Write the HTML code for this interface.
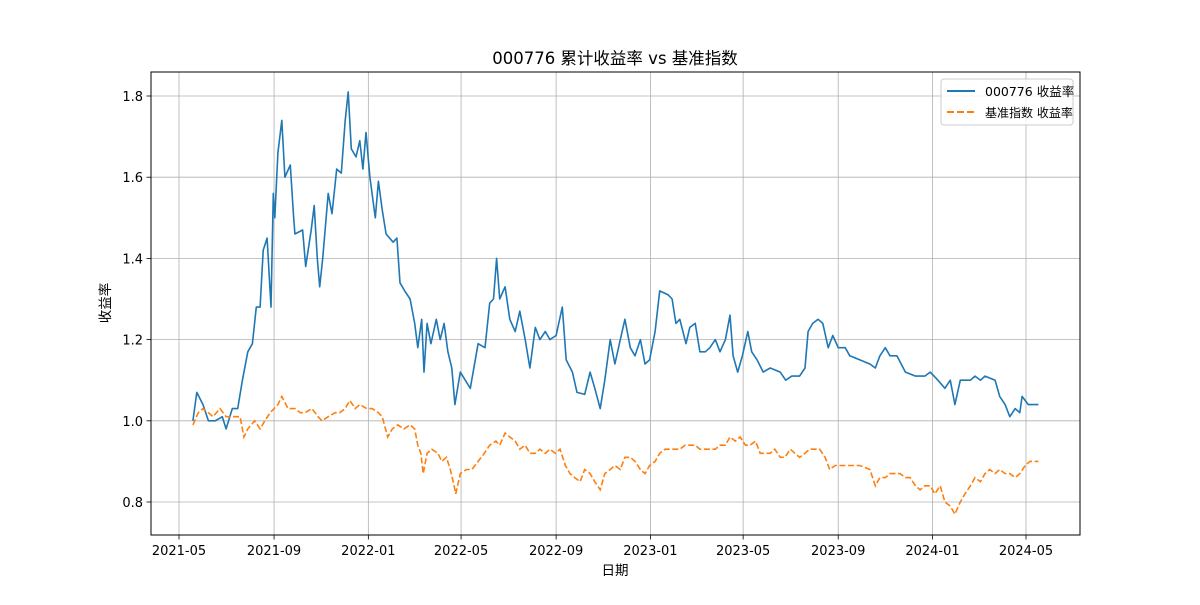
<!DOCTYPE html>
<html><head><meta charset="utf-8"><style>
body{margin:0;background:#fff;}
svg text{font-family:"DejaVu Sans","Liberation Sans","Noto Sans CJK SC",sans-serif;fill:#000;}
</style></head><body>
<svg id="chart" width="1200" height="600" xmlns="http://www.w3.org/2000/svg">
<rect width="1200" height="600" fill="#fff"/>
<g id="grid"></g>
<g id="series"></g>
<rect x="151" y="72" width="929" height="463" fill="none" stroke="#000" stroke-width="1"/>
<g id="ticks"></g>
<text x="615" y="64" text-anchor="middle" font-size="16.5">000776 累计收益率 vs 基准指数</text>
<text x="615" y="575" text-anchor="middle" font-size="13.5">日期</text>
<text transform="translate(110,303) rotate(-90)" text-anchor="middle" font-size="13.5">收益率</text>
<g>
<rect x="941" y="79" width="132" height="46" rx="3" fill="#fff" fill-opacity="0.8" stroke="#ccc"/>
<line x1="947" y1="91" x2="975" y2="91" stroke="#1f77b4" stroke-width="2"/>
<text x="985" y="96" font-size="12.5">000776 收益率</text>
<line x1="947" y1="112" x2="975" y2="112" stroke="#ff7f0e" stroke-width="2" stroke-dasharray="7,3"/>
<text x="985" y="117" font-size="12">基准指数 收益率</text>
</g>
</svg>
<script>
const stockDays=[18,23,31,38,47,56,61,69,76,82,89,95,100,105,109,114,119,122,124,128,133,137,144,148,150,160,164,171,175,179,182,186,193,198,204,210,215,219,223,229,234,238,242,247,254,258,263,268,277,282,286,292,299,305,309,314,317,321,326,333,338,343,348,353,357,364,377,387,396,402,407,411,415,422,428,435,441,448,454,461,467,474,480,488,496,501,509,515,525,532,538,545,551,558,564,571,577,584,590,597,603,609,616,622,633,638,643,648,656,661,668,674,681,687,694,700,707,713,717,723,729,736,741,748,756,765,778,785,793,803,810,814,820,827,833,840,846,853,862,868,881,894,901,907,914,920,929,940,953,965,972,982,991,998,1004,1011,1024,1030,1037,1043,1056,1062,1069,1075,1082,1088,1091,1099,1105,1112];
const stockValues=[1.00,1.07,1.04,1.00,1.00,1.01,0.98,1.03,1.03,1.10,1.17,1.19,1.28,1.28,1.42,1.45,1.28,1.56,1.50,1.66,1.74,1.60,1.63,1.51,1.46,1.47,1.38,1.47,1.53,1.40,1.33,1.40,1.56,1.51,1.62,1.61,1.74,1.81,1.67,1.65,1.69,1.62,1.71,1.60,1.50,1.59,1.52,1.46,1.44,1.45,1.34,1.32,1.30,1.24,1.18,1.25,1.12,1.24,1.19,1.25,1.20,1.24,1.17,1.13,1.04,1.12,1.08,1.19,1.18,1.29,1.30,1.40,1.30,1.33,1.25,1.22,1.27,1.20,1.13,1.23,1.20,1.22,1.20,1.21,1.28,1.15,1.12,1.07,1.065,1.12,1.08,1.03,1.10,1.20,1.14,1.20,1.25,1.18,1.16,1.20,1.14,1.15,1.22,1.32,1.31,1.30,1.24,1.25,1.19,1.23,1.24,1.17,1.17,1.18,1.20,1.17,1.20,1.26,1.16,1.12,1.16,1.22,1.17,1.15,1.12,1.13,1.12,1.10,1.11,1.11,1.13,1.22,1.24,1.25,1.24,1.18,1.21,1.18,1.18,1.16,1.15,1.14,1.13,1.16,1.18,1.16,1.16,1.12,1.11,1.11,1.12,1.10,1.08,1.10,1.04,1.10,1.10,1.11,1.10,1.11,1.10,1.06,1.04,1.01,1.03,1.02,1.06,1.04,1.04,1.04];
const benchDays=[18,25,31,38,44,53,61,69,79,84,89,98,105,111,118,128,133,141,150,157,163,172,180,185,193,202,208,215,221,228,234,243,250,258,263,270,276,283,291,299,305,309,313,316,321,327,335,340,346,351,356,358,364,372,379,387,395,402,410,415,422,428,435,441,448,454,461,467,474,480,487,493,500,506,512,519,525,532,538,545,551,558,564,571,577,584,590,597,603,609,616,622,629,635,642,648,655,661,668,674,681,687,694,700,707,713,720,726,733,739,746,752,758,765,771,778,784,791,797,803,810,816,823,829,836,842,849,855,862,868,881,894,901,907,914,920,927,933,940,946,953,959,965,972,978,985,991,998,1004,1011,1017,1024,1030,1037,1043,1049,1056,1062,1069,1075,1082,1088,1095,1101,1112];
const benchValues=[0.99,1.02,1.03,1.02,1.01,1.03,1.01,1.01,1.01,0.96,0.98,1.00,0.98,1.00,1.02,1.04,1.06,1.03,1.03,1.02,1.02,1.03,1.01,1.00,1.01,1.02,1.02,1.03,1.05,1.03,1.04,1.03,1.03,1.02,1.01,0.96,0.98,0.99,0.98,0.99,0.98,0.94,0.92,0.87,0.92,0.93,0.92,0.90,0.91,0.88,0.84,0.82,0.87,0.88,0.88,0.90,0.92,0.94,0.95,0.94,0.97,0.96,0.95,0.93,0.94,0.92,0.92,0.93,0.92,0.93,0.92,0.93,0.89,0.87,0.86,0.85,0.88,0.87,0.85,0.83,0.87,0.88,0.89,0.88,0.91,0.91,0.90,0.88,0.87,0.89,0.90,0.92,0.93,0.93,0.93,0.93,0.94,0.94,0.94,0.93,0.93,0.93,0.93,0.94,0.94,0.96,0.95,0.96,0.94,0.94,0.95,0.92,0.92,0.92,0.93,0.91,0.91,0.93,0.92,0.91,0.92,0.93,0.93,0.93,0.91,0.88,0.89,0.89,0.89,0.89,0.89,0.88,0.84,0.86,0.86,0.87,0.87,0.87,0.86,0.86,0.84,0.83,0.84,0.84,0.82,0.84,0.80,0.79,0.77,0.80,0.82,0.84,0.86,0.85,0.87,0.88,0.87,0.88,0.87,0.87,0.86,0.87,0.89,0.90,0.90];
const xTickLabels=["2021-05","2021-09","2022-01","2022-05","2022-09","2023-01","2023-05","2023-09","2024-01","2024-05"];
const xTickDays=[0,123,245,365,488,610,730,853,975,1096];
const yTickLabels=["0.8","1.0","1.2","1.4","1.6","1.8"];
const yTickValues=[0.8,1.0,1.2,1.4,1.6,1.8];

const NS="http://www.w3.org/2000/svg";
function xs(d){return 179+d*(847/1096);}
function ys(v){return 502-(v-0.8)*406;}
function mk(tag,attrs,parent){const e=document.createElementNS(NS,tag);for(const k in attrs)e.setAttribute(k,attrs[k]);parent.appendChild(e);return e;}
const grid=document.getElementById('grid'),ticks=document.getElementById('ticks'),series=document.getElementById('series');
xTickDays.forEach((d,i)=>{
  const x=xs(d);
  const g=mk('line',{x1:x,y1:72,x2:x,y2:535,stroke:'#b0b0b0','stroke-width':0.8},grid);
  
  
  const t=mk('line',{x1:x,y1:535,x2:x,y2:539.5,stroke:'#000','stroke-width':0.8},ticks);
  
  
  const l=mk('text',{x:x,y:555,'text-anchor':'middle','font-size':13},ticks);
  l.textContent=xTickLabels[i];
  
  
});
yTickValues.forEach((v,i)=>{
  const y=ys(v);
  const g=mk('line',{x1:151,y1:y,x2:1080,y2:y,stroke:'#b0b0b0','stroke-width':0.8},grid);
  
  
  const t=mk('line',{x1:146.5,y1:y,x2:151,y2:y,stroke:'#000','stroke-width':0.8},ticks);
  
  
  const l=mk('text',{x:143,y:y+5,'text-anchor':'end','font-size':13},ticks);
  l.textContent=yTickLabels[i];
  
  
});
function path(days,vals){return days.map((d,i)=>(i?'L':'M')+xs(d).toFixed(1)+','+ys(vals[i]).toFixed(1)).join(' ');}
const sl=mk('path',{d:path(stockDays,stockValues),fill:'none',stroke:'#1f77b4','stroke-width':1.6,'stroke-linejoin':'round'},series);


const bl=mk('path',{d:path(benchDays,benchValues),fill:'none',stroke:'#ff7f0e','stroke-width':1.6,'stroke-dasharray':'6,2.6'},series);


</script>
</body></html>
